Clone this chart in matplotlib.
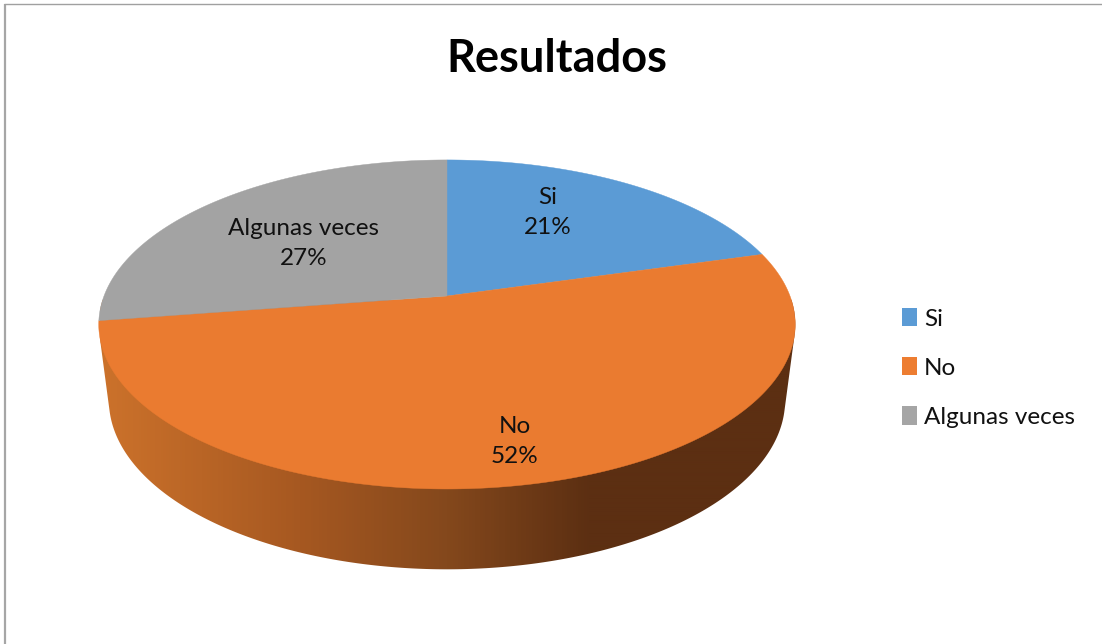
import numpy as np
import matplotlib
matplotlib.use("Agg")
import matplotlib.pyplot as plt
from matplotlib.patches import Polygon, Patch
from matplotlib.colors import LinearSegmentedColormap

title = "Resultados"
categories = ["Si", "No", "Algunas veces"]
values = [20.6, 52.0, 27.4]
colors = ["#5B9BD5", "#EA7B30", "#A3A3A3"]
legend_colors = ["#5B9BD5", "#ED7D31", "#A5A5A5"]
label_pos = [(547.5, 212.5), (514.5, 441.5), (303.5, 243.5)]

W, H = 1102, 644
plt.rcParams["font.family"] = ["Lato", "DejaVu Sans"]
fig = plt.figure(figsize=(W / 100, H / 100), dpi=100)
ax = fig.add_axes([0, 0, 1, 1])
ax.set_xlim(0, W)
ax.set_ylim(H, 0)
ax.axis("off")

CX = 447.0
K = 0.173


def disk(theta, a, b, y0):
    u, v = np.sin(theta), np.cos(theta)
    d = 1 + K * v
    return np.column_stack([CX + a * u / d, y0 - b * v / d])


TOP = (343, 159.6, 296)
BOT = (333, 164, 371)


def hull(points):
    pts = sorted(map(tuple, points))
    def half(seq):
        out = []
        for p in seq:
            while len(out) > 1 and ((out[-1][0] - out[-2][0]) * (p[1] - out[-2][1])
                                    - (out[-1][1] - out[-2][1]) * (p[0] - out[-2][0])) <= 0:
                out.pop()
            out.append(p)
        return out[:-1]
    return np.array(half(pts) + half(pts[::-1]))


t = np.linspace(0, 2 * np.pi, 721)[:-1]
outline = hull(np.vstack([disk(t, *TOP), disk(t, *BOT)]))
side = Polygon(outline, closed=True, transform=ax.transData, fc="none", ec="none")
ax.add_patch(side)
stops = [(100, "#CC722B"), (300, "#A65821"), (447, "#84481C"), (590, "#5C2F12"), (800, "#5C2F12")]
cmap = LinearSegmentedColormap.from_list(
    "side", [((x - 100) / 700, c) for x, c in stops])
im = ax.imshow(np.linspace(0, 1, 700).reshape(1, -1), cmap=cmap, vmin=0, vmax=1,
               extent=(100, 800, 575, 300), aspect="auto", interpolation="bilinear", zorder=1)
im.set_clip_path(side)
ax.set_xlim(0, W)
ax.set_ylim(H, 0)

edges = np.cumsum([0] + values) / sum(values) * 2 * np.pi
fs = 17.5
for i, name in enumerate(categories):
    th = np.linspace(edges[i], edges[i + 1], 300)
    poly = np.vstack([[CX, TOP[2]], disk(th, *TOP)])
    ax.add_patch(Polygon(poly, closed=True, fc=colors[i], ec=colors[i], lw=0.3, zorder=2))
    x, y = label_pos[i]
    ax.text(x, y, f"{name}\n{values[i]:.0f}%", ha="center", va="center", fontsize=fs,
            color="#111111", linespacing=1.56, zorder=3)

ax.text(557, 59, title, ha="center", va="center", fontsize=32.5, fontweight="bold", color="black")

ax.plot([4.5, 4.5], [4, H], color="#A6A6A6", lw=1.6, solid_capstyle="butt")
ax.plot([4, W], [4, 4], color="#A0A0A0", lw=1.0, solid_capstyle="butt")

handles = [Patch(fc=c, ec="none") for c in legend_colors]
px = fs * 100 / 72
ax.legend(handles, categories, loc="center left", bbox_to_anchor=(902 / W, 1 - 368 / H),
          bbox_transform=fig.transFigure, frameon=False, fontsize=fs, borderpad=0,
          borderaxespad=0, handlelength=15 / px, handleheight=19 / px,
          handletextpad=7 / px, labelspacing=1.13, labelcolor="#111111")

fig.savefig("out.png", dpi=100)
